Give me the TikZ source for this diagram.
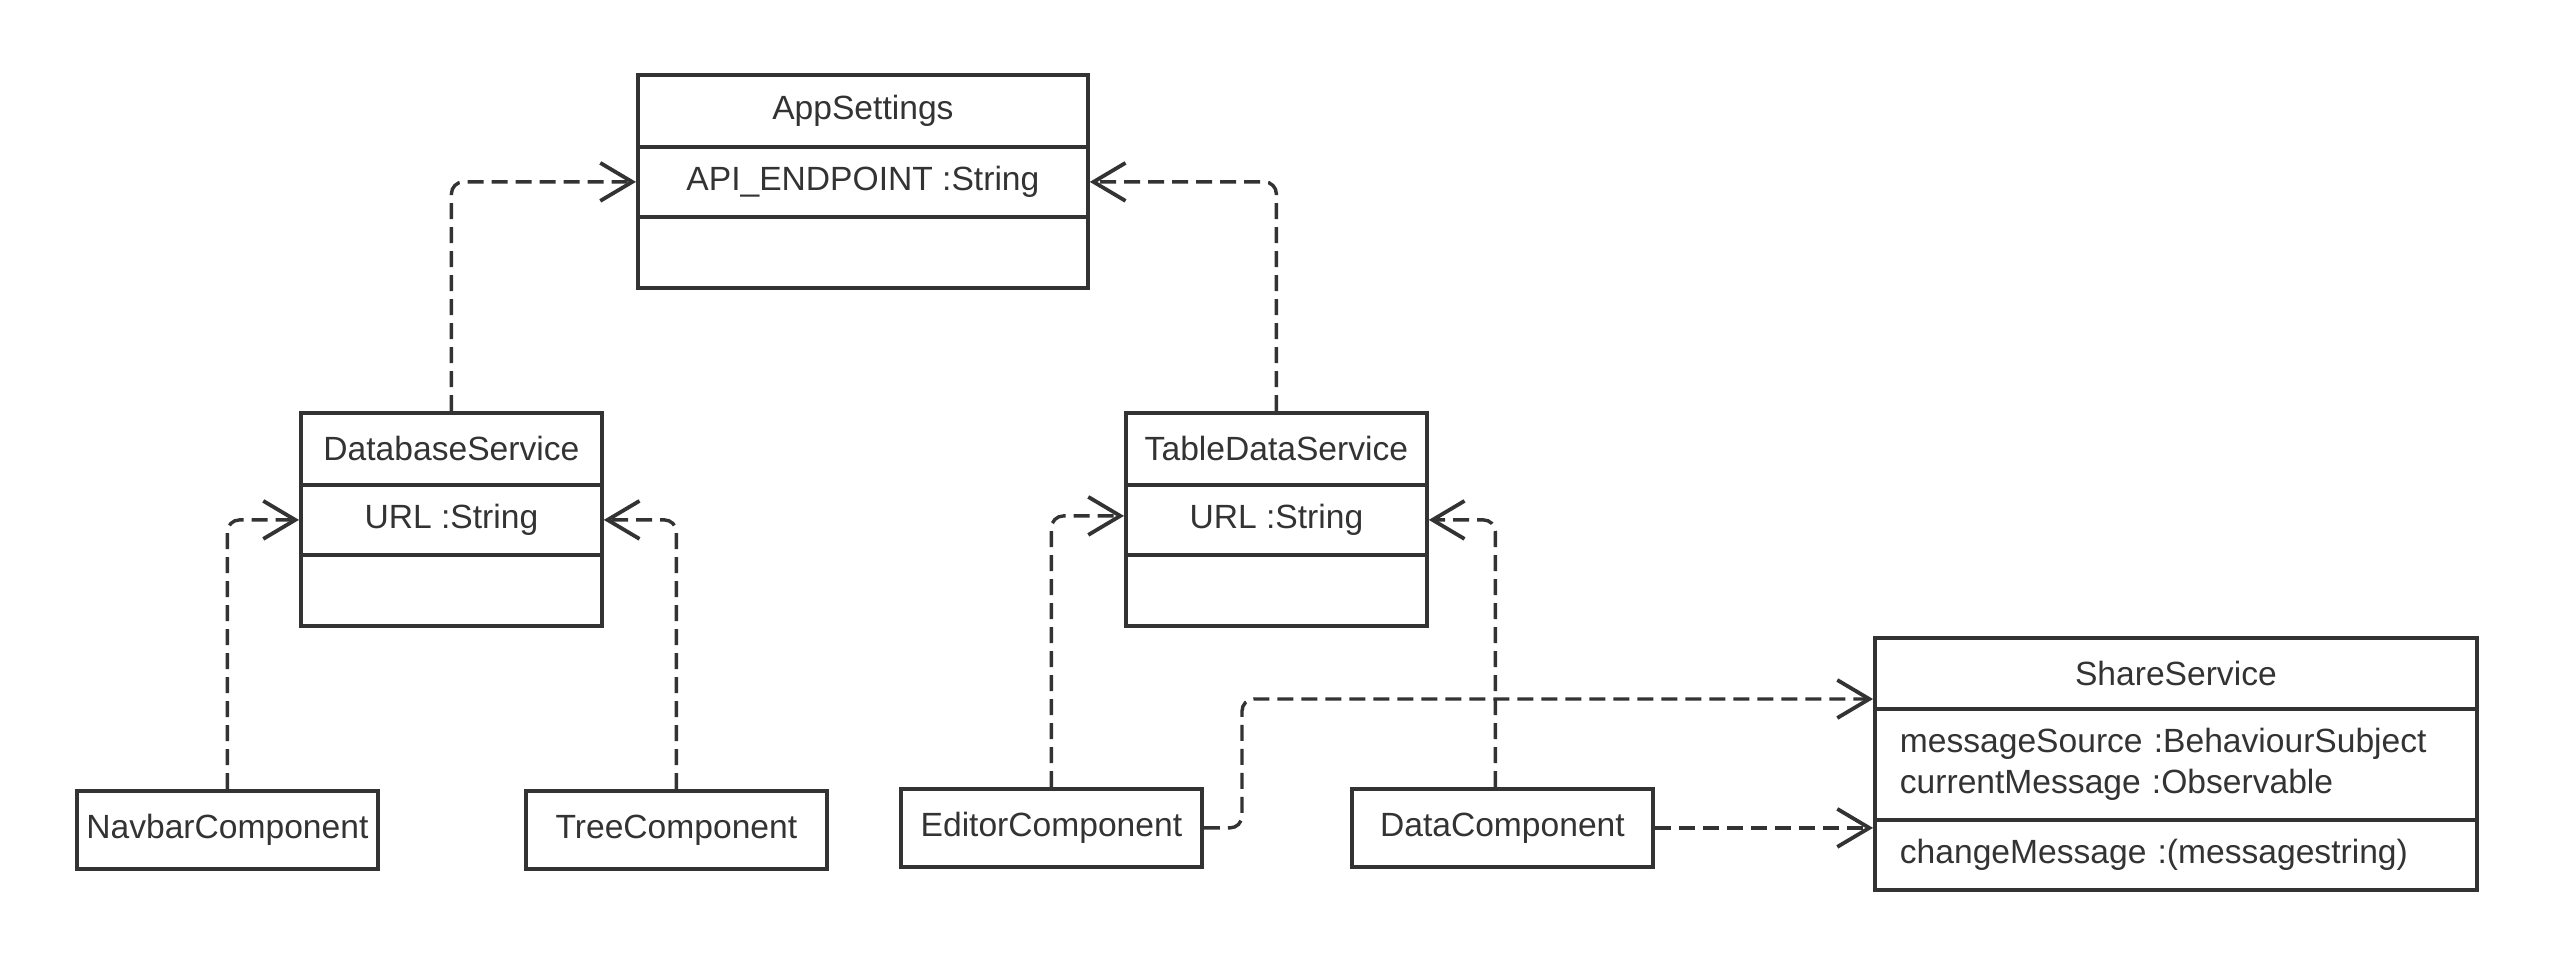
\documentclass[tikz,border=0pt]{standalone}
\usepackage{fontspec}
\setmainfont{Liberation Sans}
\usetikzlibrary{arrows.meta,calc}
\definecolor{ink}{HTML}{333333}
\begin{document}
\begin{tikzpicture}[x=0.25pt,y=-0.25pt,
  comp/.style={draw=ink,line width=0.95pt,text=ink,inner sep=0pt,anchor=north west,
    font=\fontsize{8.4pt}{10.1pt}\selectfont,align=center},
  leftcomp/.style={comp,align=left,text width=#1,inner xsep=6.25pt},
  dep/.style={draw=ink,line width=0.85pt,dash pattern=on 4pt off 2pt,rounded corners=3pt,
    -{Straight Barb[length=8pt,width=9.5pt,line width=0.95pt]}}]
\useasboundingbox (0,0) rectangle (2550,964);
% AppSettings
\node[comp,minimum width=450*0.25pt,minimum height=72*0.25pt] (AppN) at (636,73) {AppSettings};
\node[comp,minimum width=450*0.25pt,minimum height=70*0.25pt] (AppA) at (636,145) {API\_ENDPOINT :String};
\node[comp,minimum width=450*0.25pt,minimum height=71*0.25pt] (AppO) at (636,215) {};
% DatabaseService
\node[comp,minimum width=301*0.25pt,minimum height=72*0.25pt] (DBN) at (299,411) {DatabaseService};
\node[comp,minimum width=301*0.25pt,minimum height=70*0.25pt] (DBA) at (299,483) {URL :String};
\node[comp,minimum width=301*0.25pt,minimum height=71*0.25pt] (DBO) at (299,553) {};
% TableDataService
\node[comp,minimum width=301*0.25pt,minimum height=72*0.25pt] (TDN) at (1124,411) {TableDataService};
\node[comp,minimum width=301*0.25pt,minimum height=70*0.25pt] (TDA) at (1124,483) {URL :String};
\node[comp,minimum width=301*0.25pt,minimum height=71*0.25pt] (TDO) at (1124,553) {};
% Components
\node[comp,minimum width=301*0.25pt,minimum height=78*0.25pt] (Nav) at (75,789) {NavbarComponent};
\node[comp,minimum width=301*0.25pt,minimum height=78*0.25pt] (Tree) at (524,789) {TreeComponent};
\node[comp,minimum width=301*0.25pt,minimum height=78*0.25pt] (Ed) at (899,787) {EditorComponent};
\node[comp,minimum width=301*0.25pt,minimum height=78*0.25pt] (Data) at (1350,787) {DataComponent};
% ShareService
\node[comp,minimum width=602*0.25pt,minimum height=71*0.25pt] (SSN) at (1873,636) {ShareService};
\node[leftcomp=602*0.25pt-12.5pt,minimum height=111*0.25pt] (SSA) at (1873,707) {messageSource :BehaviourSubject\\currentMessage :Observable};
\node[leftcomp=602*0.25pt-12.5pt,minimum height=70*0.25pt] (SSO) at (1873,818) {changeMessage :(messagestring)};
% connectors
\draw[dep] (DBN.north) |- (AppA.west);
\draw[dep] (TDN.north) |- (AppA.east);
\draw[dep] (Nav.north) |- (DBA.west);
\draw[dep] (Tree.north) |- (DBA.east);
\draw[dep] (Ed.north) |- ([yshift=1pt]TDA.west);
\draw[dep] ([xshift=-1.75pt]Data.north) |- (TDA.east);
\coordinate (bend) at (1242,699);
\draw[dep] (Ed.east) -| (bend) -- (SSN.west |- bend);
\draw[dep] (Data.east) -- (SSO.west |- Data.east);
\end{tikzpicture}
\end{document}
